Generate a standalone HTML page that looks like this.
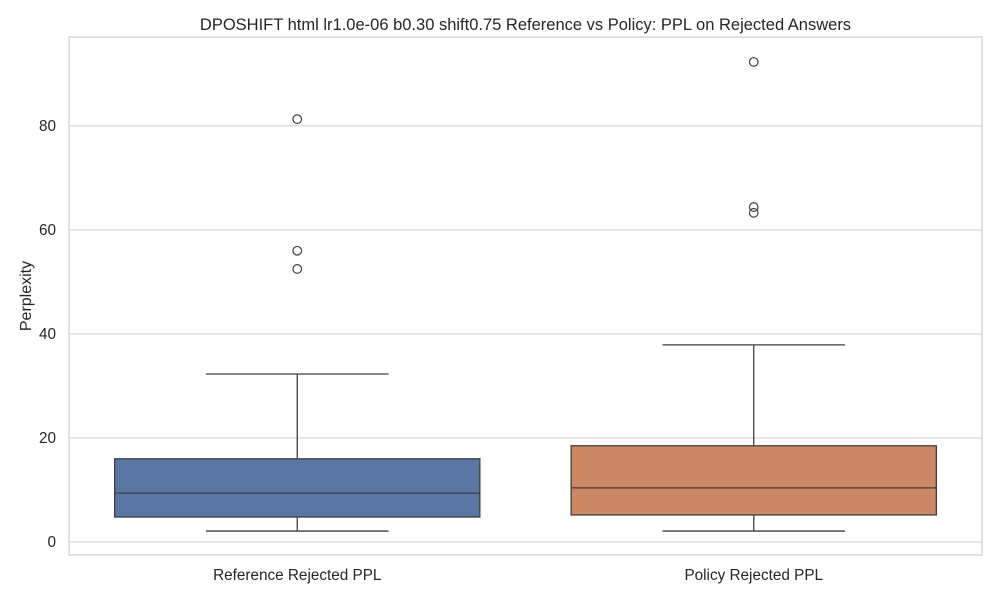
<!DOCTYPE html>
<html><head><meta charset="utf-8"><style>
body{margin:0;background:#fff;font-family:"Liberation Sans",sans-serif;}
svg text{font-family:"Liberation Sans",sans-serif;fill:#262626;}
</style></head><body>
<svg id="chart" width="1000" height="600"></svg>
<script>
const categories=["Reference Rejected PPL","Policy Rejected PPL"];
const whiskerLow=[2.1,2.1];
const q1=[4.8,5.2];
const medians=[9.4,10.4];
const q3=[16.0,18.5];
const whiskerHigh=[32.3,37.9];
const outliers=[[81.3,56.0,52.5],[92.3,64.4,63.3]];
const yTicks=[0,20,40,60,80];
const colors=["#5875a4","#cc8963"];

const svg=document.getElementById('chart');
const NS="http://www.w3.org/2000/svg";
const L=69,R=982,T=37,B=555;
const yMin=-2.5,yMax=97.1;
const y=v=>B-(v-yMin)/(yMax-yMin)*(B-T);
const band=(R-L)/categories.length;
const xc=i=>L+band*(i+0.5);
const boxW=band*0.8;
function mk(tag,attrs,parent){const e=document.createElementNS(NS,tag);for(const k in attrs)e.setAttribute(k,attrs[k]);(parent||svg).appendChild(e);return e;}

yTicks.forEach(t=>{
  const g=mk('line',{x1:L,x2:R,y1:y(t),y2:y(t),stroke:'#cccccc','stroke-width':1});
  
  
  const tx=mk('text',{x:L-13,y:y(t)+5,'text-anchor':'end','font-size':15.3});
  tx.textContent=t;
  
  
});
const frame=mk('rect',{x:L,y:T,width:R-L,height:B-T,fill:'none',stroke:'#cccccc','stroke-width':1.2});



categories.forEach((c,i)=>{
  const cx=xc(i);
  const g=mk('g',{});
  
  
  const st={stroke:'#3f3f3f','stroke-width':1.3};
  mk('line',{x1:cx,x2:cx,y1:y(whiskerLow[i]),y2:y(q1[i]),...st},g);
  mk('line',{x1:cx,x2:cx,y1:y(q3[i]),y2:y(whiskerHigh[i]),...st},g);
  mk('line',{x1:cx-boxW/4,x2:cx+boxW/4,y1:y(whiskerLow[i]),y2:y(whiskerLow[i]),...st},g);
  mk('line',{x1:cx-boxW/4,x2:cx+boxW/4,y1:y(whiskerHigh[i]),y2:y(whiskerHigh[i]),...st},g);
  mk('rect',{x:cx-boxW/2,y:y(q3[i]),width:boxW,height:y(q1[i])-y(q3[i]),fill:colors[i],...st},g);
  mk('line',{x1:cx-boxW/2,x2:cx+boxW/2,y1:y(medians[i]),y2:y(medians[i]),...st},g);
  outliers[i].forEach(v=>{
    const o=mk('circle',{cx:cx,cy:y(v),r:4.3,fill:'none',stroke:'#3f3f3f','stroke-width':1.2},g);
    
    
  });
  const tx=mk('text',{x:cx,y:B+25,'text-anchor':'middle','font-size':15.3});
  tx.textContent=c;
  
  
});

const yl=mk('text',{x:0,y:0,'text-anchor':'middle','font-size':16,transform:`translate(31,${(T+B)/2}) rotate(-90)`});
yl.textContent='Perplexity';


const title=mk('text',{x:(L+R)/2,y:30,'text-anchor':'middle','font-size':16.5});
title.textContent='DPOSHIFT html lr1.0e-06 b0.30 shift0.75 Reference vs Policy: PPL on Rejected Answers';


</script>
</body></html>
